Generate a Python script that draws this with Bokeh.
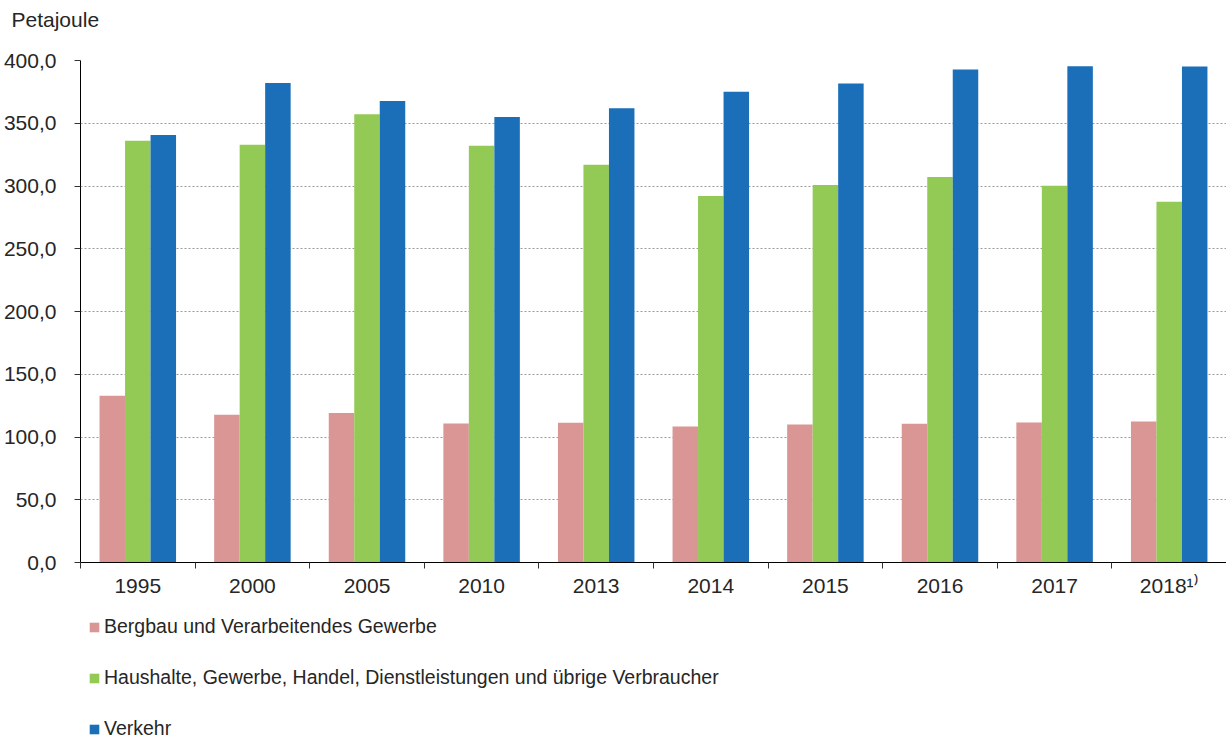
from bokeh.plotting import figure
from bokeh.layouts import column
from bokeh.models import (ColumnDataSource, FixedTicker, CustomJSTickFormatter,
                          Legend, LegendItem, Range1d)
from bokeh.transform import dodge
from bokeh.embed import file_html
from bokeh.resources import INLINE

years = ["1995", "2000", "2005", "2010", "2013", "2014", "2015", "2016", "2017", "2018\u00b9\u207e"]
bergbau = [132.8, 117.7, 119.1, 110.8, 111.4, 108.4, 110.0, 110.6, 111.6, 112.4]
haushalte = [336.0, 332.8, 357.1, 332.0, 316.9, 292.0, 300.8, 307.1, 300.2, 287.5]
verkehr = [340.7, 382.0, 367.7, 355.0, 361.9, 375.1, 381.7, 392.9, 395.5, 395.2]

series_names = ["Bergbau und Verarbeitendes Gewerbe",
                "Haushalte, Gewerbe, Handel, Dienstleistungen und übrige Verbraucher",
                "Verkehr"]
colors = ["#D99694", "#93C955", "#1A6FB8"]
y_ticks = [0, 50, 100, 150, 200, 250, 300, 350, 400]

FONT = "Liberation Sans"
TXT = "#262626"

src = ColumnDataSource(dict(
    pos=[i + 0.5 for i in range(len(years))],
    bergbau=bergbau, haushalte=haushalte, verkehr=verkehr,
))

p = figure(width=1226, height=600, output_backend="svg", toolbar_location=None,
           x_range=(0, len(years)), y_range=(0, 400),
           min_border_left=80, min_border_right=0, min_border_top=60, min_border_bottom=38)
p.outline_line_color = None
p.background_fill_color = "white"

# unit label; the blank second line keeps it near the top edge
p.title.text = "Petajoule\n\u00a0"
p.title.align = "left"
p.title.vertical_align = "top"
p.title.offset = -69
p.title.text_font = FONT
p.title.text_font_size = "21px"
p.title.text_font_style = "normal"
p.title.text_color = TXT
p.title.standoff = 9

bw = 0.2225
cols = ["bergbau", "haushalte", "verkehr"]
offs = [-bw, 0.0, bw]
for c, off, col in zip(cols, offs, colors):
    p.vbar(x=dodge("pos", off), top=c, width=bw, bottom=0, source=src,
           fill_color=col, line_color=None)

# y axis
yax = p.yaxis[0]
yax.ticker = FixedTicker(ticks=y_ticks)
yax.formatter = CustomJSTickFormatter(code="return tick.toFixed(1).replace('.', ',')")
yax.axis_line_color = "black"
yax.major_tick_line_color = "#333333"
yax.major_tick_out = 6
yax.major_tick_in = 0
yax.minor_tick_line_color = None
yax.major_label_standoff = 18
yax.major_label_text_font = FONT
yax.major_label_text_font_size = "21px"
yax.major_label_text_color = TXT

# x axis
xax = p.xaxis[0]
xax.ticker = FixedTicker(ticks=[i + 0.5 for i in range(len(years))],
                         minor_ticks=list(range(len(years) + 1)))
xax.formatter = CustomJSTickFormatter(args=dict(labels=years),
                                      code="return labels[Math.floor(tick)]")
xax.axis_line_color = "black"
xax.major_tick_line_color = None
xax.major_tick_out = 0
xax.major_tick_in = 0
xax.minor_tick_line_color = "#333333"
xax.minor_tick_out = 6
xax.minor_tick_in = 0
xax.major_label_standoff = 5
xax.major_label_text_font = FONT
xax.major_label_text_font_size = "21px"
xax.major_label_text_color = TXT

p.xgrid.grid_line_color = None
p.ygrid.grid_line_color = "#9A9A9A"
p.ygrid.grid_line_dash = "2 2"
p.ygrid.grid_line_width = 1

# legend strip below the chart (its bars lie outside its own visible range)
lg = figure(width=1226, height=140, output_backend="svg", toolbar_location=None,
            x_range=Range1d(0, len(years)), y_range=Range1d(1000, 2000),
            x_axis_location=None, y_axis_location=None,
            min_border_left=80, min_border_right=0, min_border_top=0, min_border_bottom=0)
lg.outline_line_color = None
lg.xgrid.grid_line_color = None
lg.ygrid.grid_line_color = None
leg_renderers = [lg.vbar(x="pos", top=c, width=bw, bottom=0, source=src,
                         fill_color=col, line_color=None) for c, col in zip(cols, colors)]

legend = Legend(items=[LegendItem(label=n, renderers=[r]) for n, r in zip(series_names, leg_renderers)],
                location=(8, 0), orientation="vertical",
                glyph_width=12, glyph_height=12, label_height=22, spacing=28,
                label_standoff=4, padding=0, margin=0,
                border_line_color=None, background_fill_alpha=0,
                label_text_font=FONT, label_text_font_size="19.5px", label_text_color=TXT)
lg.add_layout(legend, "center")

layout = column(p, lg, spacing=0)
open("out.html", "w").write(file_html(layout, INLINE))
